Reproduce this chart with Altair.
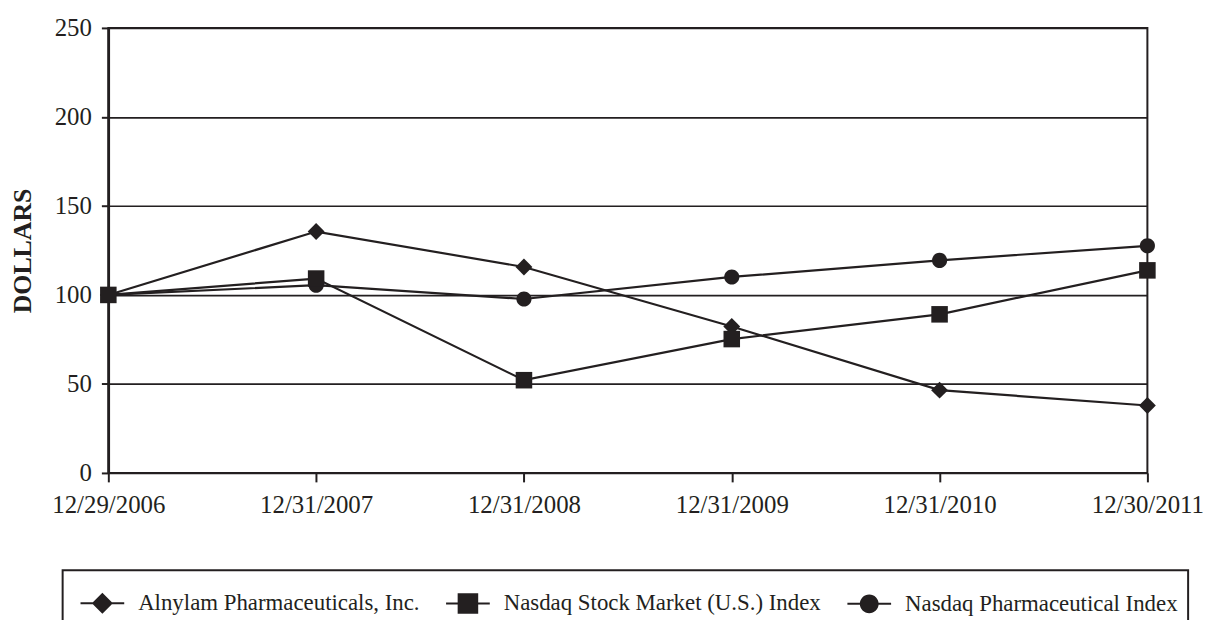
import altair as alt
import pandas as pd

INK = "#231f20"
FONT = "Liberation Serif"

dates = ["12/29/2006", "12/31/2007", "12/31/2008", "12/31/2009", "12/31/2010", "12/30/2011"]
series = [
    "Alnylam Pharmaceuticals, Inc.",
    "Nasdaq Stock Market (U.S.) Index",
    "Nasdaq Pharmaceutical Index",
]
alnylam = [100, 135.6, 115.7, 82.3, 46.5, 37.9]
nasdaq = [100, 109.2, 52.1, 75.2, 89.1, 113.8]
pharma = [100, 105.5, 97.7, 110.1, 119.4, 127.6]
y_ticks = [0, 50, 100, 150, 200, 250]

# plot markers: diamond, square, circle
marker_paths = [
    "M0,-0.48L0.48,0L0,0.48L-0.48,0Z",
    "M-0.47,-0.47H0.47V0.47H-0.47Z",
    "M0.43,0A0.43,0.43,0,1,1,-0.43,0A0.43,0.43,0,1,1,0.43,0Z",
]
# legend symbols: the same markers with a thin horizontal bar through them
bar = "M-1,-0.045H1V0.045H-1Z"
legend_paths = [bar + p for p in marker_paths]

rows = []
for name, vals in [(series[0], alnylam), (series[2], pharma), (series[1], nasdaq)]:
    for i, (d, v) in enumerate(zip(dates, vals)):
        rows.append({"date": d, "idx": i, "series": name, "value": v})
df = pd.DataFrame(rows)

x_enc = alt.X(
    "date:O",
    sort=dates,
    scale=alt.Scale(type="point", padding=0),
    axis=alt.Axis(
        title=None, labelAngle=0, grid=False, tickSize=9, labelPadding=11,
        domain=False, ticks=True, tickColor=INK, tickWidth=2,
    ),
)
y_enc = alt.Y(
    "value:Q",
    scale=alt.Scale(domain=[0, 250], nice=False),
    axis=alt.Axis(
        values=y_ticks, title="DOLLARS", grid=True, gridColor=INK, gridWidth=1.7,
        domain=True, domainColor=INK, domainWidth=2.5, ticks=True, tickColor=INK,
        tickWidth=2, tickSize=7, labelPadding=10,
        titleX=-86, titleY=224, titleAngle=270, titleAlign="center",
        titleBaseline="middle", titleFontSize=26, titleFontWeight="bold",
        titleFont=FONT, titleColor=INK,
    ),
)

base = alt.Chart(df)
# legend-only layer (no rows drawn)
legend_layer = (
    base.transform_filter("false")
    .mark_point(filled=True, color=INK, opacity=1, size=1936)
    .encode(
        x=x_enc,
        y=y_enc,
        shape=alt.Shape(
            "series:N",
            scale=alt.Scale(domain=series, range=legend_paths),
            legend=alt.Legend(
                title=None, orient="none", legendX=-46, legendY=546,
                direction="horizontal", columns=3,
            ),
        ),
    )
)
lines = base.mark_line(color=INK, strokeWidth=2.2).encode(
    x=x_enc, y=y_enc, detail="series:N", order="idx:Q"
)
points = base.mark_point(filled=True, opacity=1, color=INK, size=1254).encode(
    x=x_enc,
    y=y_enc,
    shape=alt.Shape(
        "series:N", scale=alt.Scale(domain=series, range=marker_paths), legend=None
    ),
)

chart = (
    alt.layer(legend_layer, lines, points)
    .resolve_scale(shape="independent")
    .resolve_legend(shape="independent")
    .properties(
        width=1046,
        height=448,
        padding={"left": 101, "top": 18, "right": 59, "bottom": 146},
        autosize=alt.AutoSizeParams(type="none"),
        background="white",
    )
    .configure_view(stroke=INK, strokeWidth=2)
    .configure_axis(
        labelFont=FONT, labelFontSize=25, labelColor=INK, labelFontWeight="normal",
    )
    .configure_legend(
        padding=10,
        strokeColor=INK,
        strokeWidth=2,
        labelFont=FONT,
        labelFontSize=23,
        labelColor=INK,
        labelLimit=800,
        labelOffset=13,
        symbolOffset=7,
        symbolSize=1936,
        symbolFillColor=INK,
        symbolOpacity=1,
        columnPadding=18,
    )
)

chart.save("out.html", embed_options={"renderer": "svg", "actions": False})
